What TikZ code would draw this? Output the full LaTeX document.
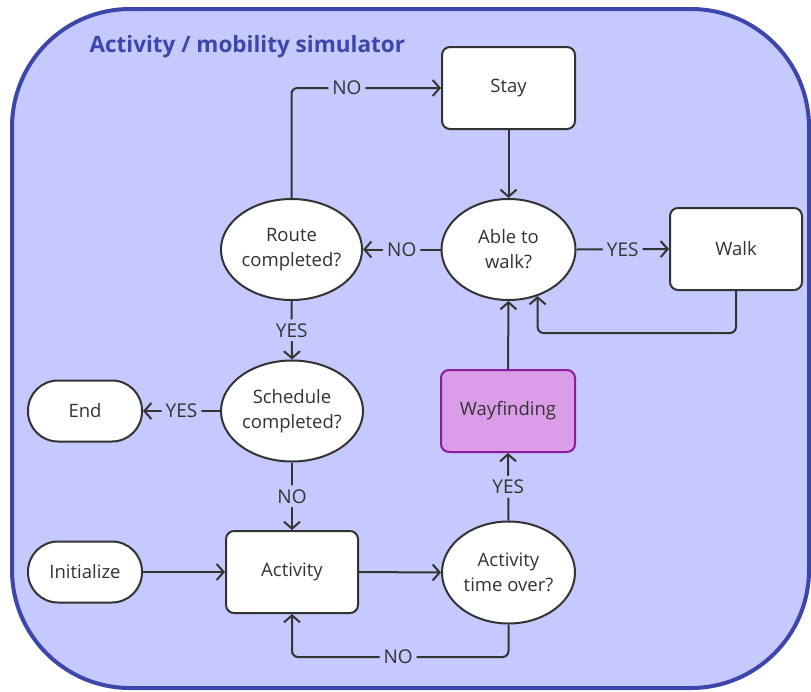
\documentclass[tikz,border=0pt]{standalone}
\usepackage{fontspec}
\setmainfont{Open Sans}
\usetikzlibrary{arrows.meta,shapes.geometric,calc}

\definecolor{framefill}{HTML}{C5C9FD}
\definecolor{framedraw}{HTML}{3D47AB}
\definecolor{ink}{HTML}{333333}
\definecolor{wayfill}{HTML}{DC9DE8}
\definecolor{waydraw}{HTML}{8E1CA2}

\tikzset{
  base/.style={draw=ink, line width=2pt, fill=white, text=ink, font=\fontsize{18.5}{25}\selectfont, align=center, inner sep=0pt},
  procbox/.style={base, rectangle, rounded corners=8pt, minimum width=#1, minimum height=82pt},
  procbox/.default=132pt,
  decision/.style={base, ellipse, minimum width=140pt, minimum height=101pt},
  terminal/.style={base, rectangle, rounded corners=30pt, minimum width=114pt, minimum height=61pt},
  arr/.style={draw=ink, line width=2pt, rounded corners=6pt, -{Straight Barb[length=7pt,width=16pt,line width=2pt]}},
  lbl/.style={fill=framefill, text=ink, font=\fontsize{19}{22}\selectfont, inner sep=4pt},
}

\begin{document}
\begin{tikzpicture}[x=1pt, y=-1pt]
  \useasboundingbox (0,0) rectangle (811,691);

  % simulator frame
  \path[fill=framefill, draw=framedraw, line width=4pt, rounded corners=118pt]
    (12,9) rectangle (809,688);
  \node[anchor=west, text=framedraw, font=\fontsize{22.5}{26}\selectfont\bfseries]
    (title) at (86,47) {Activity / mobility simulator};

  % nodes
  \node[procbox=133pt] (stay) at (508.5,88) {Stay};
  \node[decision, minimum width=134pt] (able) at (508.5,249.5) {Able to\\walk?};
  \node[decision] (route) at (291.5,249.5) {Route\\completed?};
  \node[procbox=132pt] (walk) at (736,249) {Walk};
  \node[decision, minimum width=142pt] (sched) at (292,411) {Schedule\\completed?};
  \node[terminal] (end) at (85,411) {End};
  \node[procbox=134pt, fill=wayfill, draw=waydraw] (way) at (508,411) {Wayfinding};
  \node[decision, minimum width=133pt, minimum height=102pt] (atime) at (508.5,572.5) {Activity\\time over?};
  \node[procbox=132pt] (act) at (292,572) {Activity};
  \node[terminal] (init) at (85,572) {Initialize};

  % connectors
  \draw[arr] (route.north) |- (stay.west)
    node[lbl, pos=0.685] (l1) {NO};
  \draw[arr] (stay.south) -- (able.north);
  \draw[arr] (able.west) -- node[lbl] (l2) {NO} (route.east);
  \draw[arr] (able.east) -- node[lbl] (l3) {YES} (walk.west);
  \draw[arr] (walk.south) |- (able.-58 |- 0,333) -- (able.-58);
  \draw[arr] (way.north) -- (able.south);
  \draw[arr] (route.south) -- node[lbl] (l4) {YES} (sched.north);
  \draw[arr] (sched.west) -- node[lbl] (l5) {YES} (end.east);
  \draw[arr] (sched.south) -- node[lbl] (l6) {NO} (act.north);
  \draw[arr] (init.east) -- (act.west);
  \draw[arr] (act.east) -- (atime.west);
  \draw[arr] (atime.north) -- node[lbl] (l7) {YES} (way.south);
  \draw[arr] (atime.south) |- (act.south |- 0,657)
    node[lbl, pos=0.755] (l8) {NO} -- (act.south);
\end{tikzpicture}
\end{document}
